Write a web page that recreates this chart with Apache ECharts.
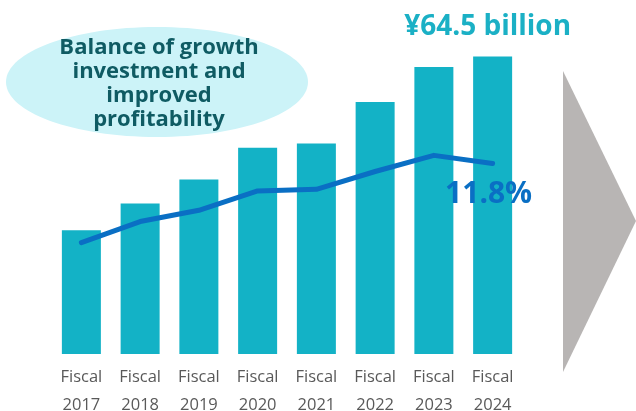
<!DOCTYPE html>
<html>
<head>
<meta charset="utf-8">
<script src="https://cdn.jsdelivr.net/npm/echarts@6/dist/echarts.min.js"></script>
<style>html,body{margin:0;padding:0;background:#fff}#c{width:636px;height:411px}</style>
</head>
<body>
<div id="c"></div>
<script>
const categories = ['Fiscal\n2017','Fiscal\n2018','Fiscal\n2019','Fiscal\n2020','Fiscal\n2021','Fiscal\n2022','Fiscal\n2023','Fiscal\n2024'];
const investment = [26.8, 32.6, 37.8, 44.7, 45.6, 54.6, 62.2, 64.5]; // ¥ billion
const margin = [6.9, 8.2, 8.9, 10.1, 10.2, 11.3, 12.3, 11.8]; // %
const headline = '¥64.5 billion';
const marginLabel = '11.8%';
const bubbleText = 'Balance of growth\ninvestment and\nimproved\nprofitability';

const chart = echarts.init(document.getElementById('c'));
const last = investment.length - 1;
chart.setOption({
  backgroundColor: '#ffffff',
  animation: false,
  grid: { left: 52, right: 114, top: 31, bottom: 57, containLabel: false, outerBoundsMode: 'none' },
  xAxis: {
    type: 'category',
    data: categories,
    axisLine: { show: false },
    axisTick: { show: false },
    axisLabel: { color: '#595959', fontSize: 16.5, fontFamily: 'Open Sans', lineHeight: 28, margin: 9, interval: 0 }
  },
  yAxis: [
    { type: 'value', min: 0, max: 70, show: false, splitLine: { show: false } },
    { type: 'value', min: 0, max: 20, show: false, splitLine: { show: false } }
  ],
  graphic: [
    { type: 'ellipse', shape: { cx: 157, cy: 82, rx: 151, ry: 55 }, style: { fill: '#CCF3F8' }, z: 1 },
    { type: 'text', x: 159, y: 84, z: 2,
      style: { text: bubbleText, fill: '#0F5B63', font: 'bold 22px "Open Sans"', lineHeight: 24, align: 'center', verticalAlign: 'middle' } },
    { type: 'polygon', shape: { points: [[563, 71], [636, 221], [563, 372]] }, style: { fill: '#B8B5B4' }, z: 1 }
  ],
  series: [
    {
      type: 'bar',
      data: investment.map((v, i) => i === last ? {
        value: v,
        label: { show: true, position: 'top', formatter: headline, offset: [-5, -10],
          color: '#1BB0C5', fontSize: 28, fontWeight: 'bold', fontFamily: 'Open Sans' }
      } : v),
      barWidth: 39,
      itemStyle: { color: '#13B2C6' },
      z: 3
    },
    {
      type: 'line',
      yAxisIndex: 1,
      data: margin.map((v, i) => i === last ? {
        value: v,
        label: { show: true, position: 'bottom', formatter: marginLabel, offset: [-4, 11],
          color: '#0A6FC4', fontSize: 30, fontWeight: 'bold', fontFamily: 'Open Sans' }
      } : v),
      symbol: 'circle',
      symbolSize: 0.1,
      showSymbol: true,
      itemStyle: { color: '#0A6FC4' },
      lineStyle: { color: '#0A6FC4', width: 5, cap: 'round', join: 'round' },
      z: 4
    }
  ]
});
</script>
</body>
</html>
